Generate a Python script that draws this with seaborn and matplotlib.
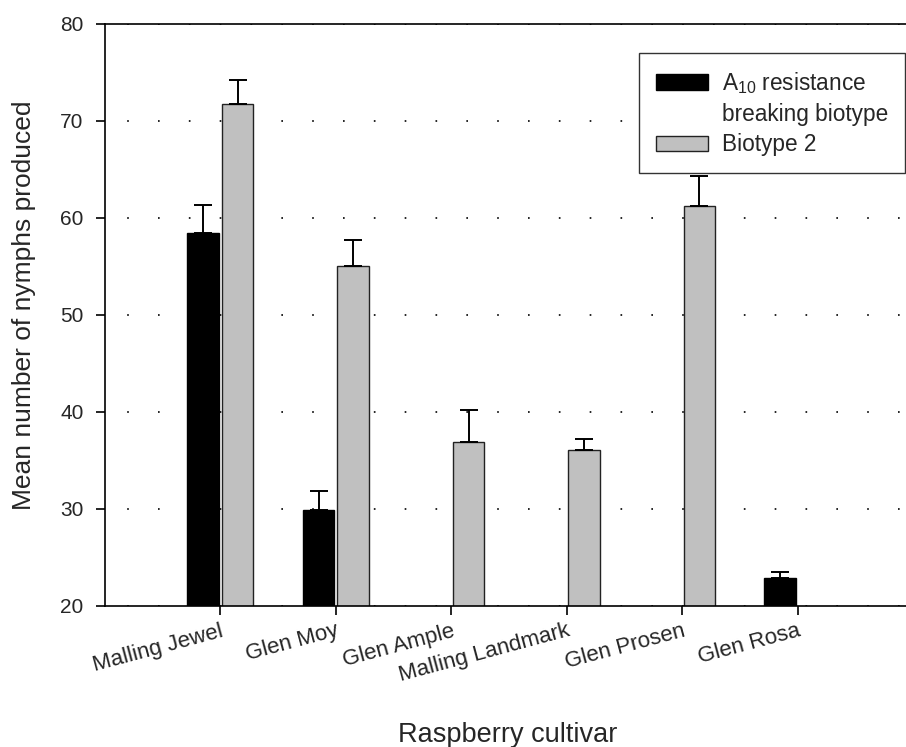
import numpy as np
import pandas as pd
import matplotlib
matplotlib.use("Agg")
import matplotlib.pyplot as plt
import seaborn as sns
from matplotlib.patches import Patch

# Data
cultivars = ["Malling Jewel", "Glen Moy", "Glen Ample",
             "Malling Landmark", "Glen Prosen", "Glen Rosa"]
biotypes = ["A10", "Biotype 2"]

a10_cultivars = ["Malling Jewel", "Glen Moy", "Glen Rosa"]
a10_mean = [58.4, 29.9, 22.9]
a10_se = [2.9, 2.0, 0.6]

b2_cultivars = ["Malling Jewel", "Glen Moy", "Glen Ample",
                "Malling Landmark", "Glen Prosen"]
b2_mean = [71.7, 55.1, 36.9, 36.1, 61.2]
b2_se = [2.5, 2.6, 3.3, 1.1, 3.1]

legend_labels = ["A$_{10}$ resistance", "breaking biotype", "Biotype 2"]

df = pd.concat([
    pd.DataFrame({"cultivar": a10_cultivars, "biotype": "A10",
                  "mean": a10_mean, "se": a10_se}),
    pd.DataFrame({"cultivar": b2_cultivars, "biotype": "Biotype 2",
                  "mean": b2_mean, "se": b2_se}),
])

sns.set_style("ticks")
plt.rcParams["font.family"] = ["Liberation Sans", "DejaVu Sans"]
plt.rcParams["mathtext.fontset"] = "custom"
plt.rcParams["mathtext.rm"] = "Liberation Sans"
plt.rcParams["mathtext.it"] = "Liberation Sans:italic"

fig = plt.figure(figsize=(9.06, 7.47), dpi=100)
ax = fig.add_axes([0.1159, 0.1888, 0.8841, 0.7791])

palette = {"A10": "#000000", "Biotype 2": "#c0c0c0"}
edges = {"A10": "#000000", "Biotype 2": "#222222"}

sns.barplot(data=df, x="cultivar", y="mean", hue="biotype",
            order=cultivars, hue_order=biotypes, palette=palette,
            width=0.6, gap=0.09, errorbar=None, saturation=1,
            linewidth=1.0, ax=ax, zorder=2)

# edge colours and upper-only error bars
for level, cont in zip(biotypes, ax.containers):
    sub = df[df["biotype"] == level].set_index("cultivar")
    for p in cont.patches:
        p.set_edgecolor(edges[level])
        xc = p.get_x() + p.get_width() / 2
        cat = cultivars[int(round(xc))]
        if cat not in sub.index:
            continue
        top = p.get_y() + p.get_height()
        ax.errorbar(xc, top, yerr=[[0], [sub.loc[cat, "se"]]],
                    fmt="none", ecolor="black", elinewidth=1.4,
                    capsize=6.8, capthick=1.4, zorder=3)

ax.set_xlim(-1, 5.94)
ax.set_ylim(20, 80)
ax.set_yticks([20, 30, 40, 50, 60, 70, 80])

ax.yaxis.grid(True, color="black", linewidth=1.2,
              linestyle=(5.2, (1, 17.5)))
ax.set_axisbelow(True)

for s in ["left", "bottom", "top"]:
    ax.spines[s].set_linewidth(1.2)
    ax.spines[s].set_color("black")
ax.spines["right"].set_visible(False)

ax.tick_params(axis="both", direction="out", length=6.5, width=1.2,
               color="black")
ax.tick_params(axis="y", labelsize=15, pad=9)
ax.tick_params(axis="x", labelsize=16, pad=4)
plt.setp(ax.get_xticklabels(), rotation=15, ha="right", va="top",
         rotation_mode="anchor")

ax.set_xlabel("Raspberry cultivar", fontsize=19.5)
ax.set_ylabel("Mean number of nymphs produced", fontsize=19)
ax.xaxis.set_label_coords(0.503, -0.2)
ax.yaxis.set_label_coords(-0.086, 0.517)

# legend, with the first label split over two lines
ax.get_legend().remove()
handles = [Patch(facecolor=palette["A10"], edgecolor=edges["A10"]),
           Patch(facecolor="none", edgecolor="none"),
           Patch(facecolor=palette["Biotype 2"], edgecolor=edges["Biotype 2"])]
leg = ax.legend(handles, legend_labels, loc="upper right",
                bbox_to_anchor=(0.999, 0.95), fontsize=16.3,
                frameon=True, fancybox=False, framealpha=1,
                edgecolor="#333333", handlelength=2.3, handleheight=0.7,
                handletextpad=0.6, labelspacing=0.32, borderpad=0.75,
                borderaxespad=0)
leg.get_frame().set_linewidth(1.0)

fig.savefig("out.png", dpi=100)
